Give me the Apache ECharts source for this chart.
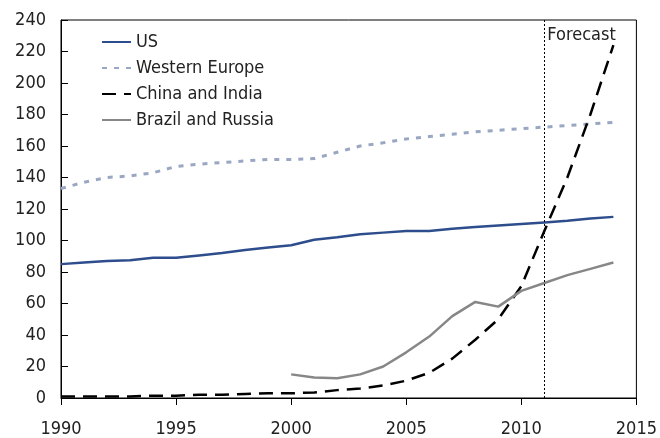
<!DOCTYPE html>
<html><head><meta charset="utf-8">
<script src="https://cdn.jsdelivr.net/npm/echarts@6/dist/echarts.min.js"></script>
<style>html,body{margin:0;padding:0;background:#fff}#c{width:660px;height:438px}</style>
</head><body><div id="c"></div>
<script>
var years = [1990,1991,1992,1993,1994,1995,1996,1997,1998,1999,2000,2001,2002,2003,2004,2005,2006,2007,2008,2009,2010,2011,2012,2013,2014];
var us = [85,86,87,87.5,89,89,90.5,92,94,95.5,97,100.5,102,104,105,106,106,107.5,108.5,109.5,110.5,111.5,112.5,114,115];
var westernEurope = [133,137,140,141,143,147,148.5,149.5,150.5,151.5,151.5,152,156,160,162,164.5,166,167.5,169,170,171,172,173,174,175];
var chinaIndia = [1,1,1,1,1.5,1.5,2,2,2.5,3,3,3.5,5,6,8,11,16,25,37,50,71,106,140,180,224];
var brazilRussia = [null,null,null,null,null,null,null,null,null,null,15,13,12.5,15,20,29,39,52,61,58,68,73,78,82,86];
var forecastYear = 2011;
var forecastLabel = 'Forecast';
var names = ['US','Western Europe','China and India','Brazil and Russia'];

function pairs(v){ return years.map(function(y,i){ return [y, v[i]]; }); }
function hasFont(f){
  var c=document.createElement('canvas').getContext('2d');
  var s='Western Europe 1990 abcdefghijk';
  c.font='40px monospace'; var a=c.measureText(s).width;
  c.font='40px "'+f+'",monospace'; var b=c.measureText(s).width;
  c.font='40px serif'; var a2=c.measureText(s).width;
  c.font='40px "'+f+'",serif'; var b2=c.measureText(s).width;
  return a!==b || a2!==b2;
}
var FONT, FS;
if (hasFont('Liberation Sans Narrow')) { FONT='"Liberation Sans Narrow"'; FS=20; }
else if (hasFont('DejaVu Sans Condensed')) { FONT='"DejaVu Sans Condensed"'; FS=18; }
else { FONT='"Liberation Sans",Arial,sans-serif'; FS=17; }
var chart = echarts.init(document.getElementById('c'));
chart.setOption({
  animation:false,
  textStyle:{fontFamily:FONT},
  grid:{left:61,right:22,top:20,bottom:40,show:true,borderColor:'#000',borderWidth:1,backgroundColor:'transparent'},
  legend:{
    orient:'vertical',left:96,top:28,itemGap:8,itemWidth:29,itemHeight:17,
    itemStyle:{opacity:0},
    textStyle:{fontFamily:FONT,fontSize:FS,color:'#222'},
    data:names
  },
  xAxis:{type:'value',min:1990,max:2015,interval:5,
    axisLine:{lineStyle:{color:'#000',width:1}},
    axisTick:{show:true,length:7,lineStyle:{color:'#000'}},
    splitLine:{show:false},
    axisLabel:{fontFamily:FONT,fontSize:FS,color:'#222',margin:22,formatter:function(v){return String(v);}}
  },
  yAxis:{type:'value',min:0,max:240,interval:20,
    axisLine:{show:true,lineStyle:{color:'#000',width:1}},
    axisTick:{show:true,inside:true,length:7,lineStyle:{color:'#000'}},
    splitLine:{show:false},
    axisLabel:{fontFamily:FONT,fontSize:FS,color:'#222',margin:15}
  },
  series:[
    {name:names[0],type:'line',data:pairs(us),showSymbol:false,symbol:'none',
      lineStyle:{color:'#2e4d8c',width:2.5},itemStyle:{color:'#2e4d8c'},
      markLine:{silent:true,symbol:'none',label:{show:false},
        lineStyle:{color:'#000',type:[2,2],width:1},data:[{xAxis:forecastYear}]}},
    {name:names[1],type:'line',data:pairs(westernEurope),showSymbol:false,symbol:'none',
      lineStyle:{color:'#9aa7c2',width:3,type:[5,7]},itemStyle:{color:'#9aa7c2'}},
    {name:names[2],type:'line',data:pairs(chinaIndia),showSymbol:false,symbol:'none',
      lineStyle:{color:'#000',width:2.5,type:[14,8]},itemStyle:{color:'#000'}},
    {name:names[3],type:'line',data:pairs(brazilRussia),showSymbol:false,symbol:'none',connectNulls:false,
      lineStyle:{color:'#878787',width:2.5},itemStyle:{color:'#878787'}}
  ]
});
var p = chart.convertToPixel({xAxisIndex:0,yAxisIndex:0},[forecastYear,240]);
chart.setOption({graphic:[{type:'text',left:p[0]+3,top:p[1]+6,
  style:{text:forecastLabel,fontFamily:FONT,fontSize:FS,fill:'#222'}}]});
</script></body></html>
